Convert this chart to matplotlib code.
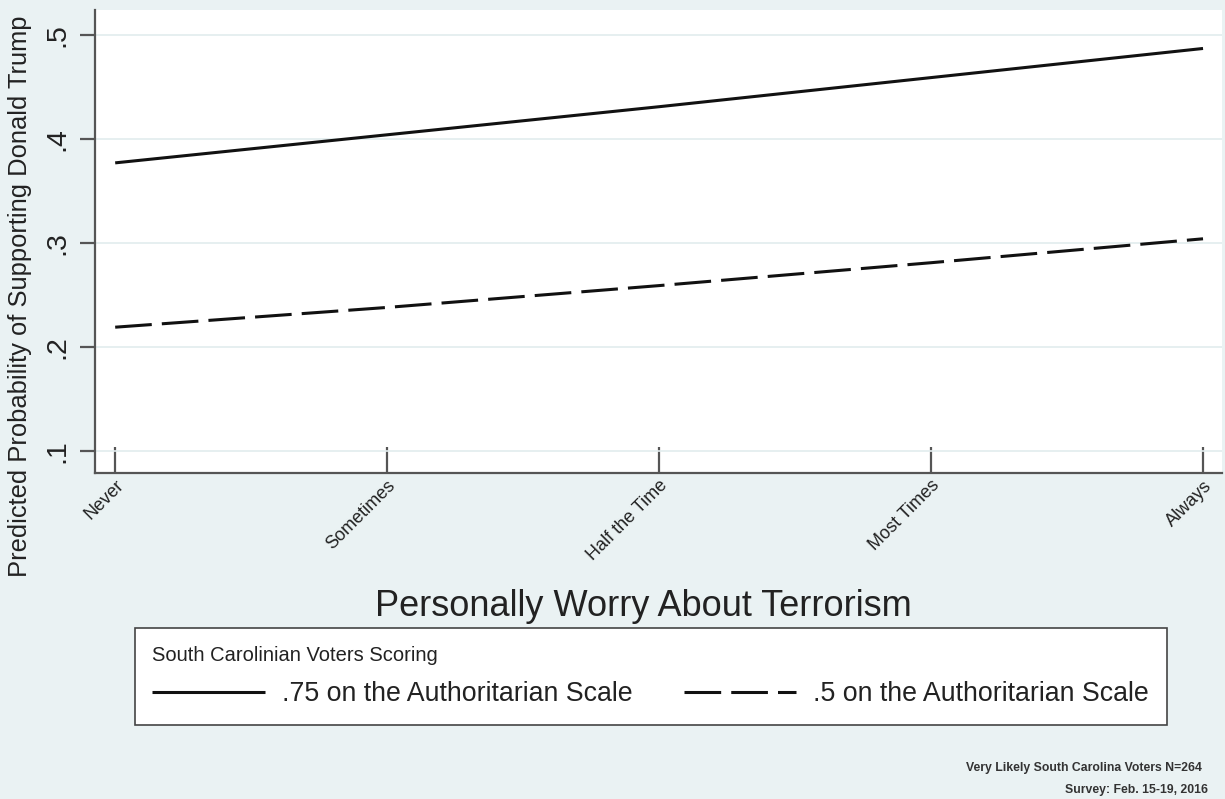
import matplotlib
matplotlib.use("Agg")
import matplotlib.pyplot as plt

plt.rcParams['font.family'] = ['Liberation Sans', 'DejaVu Sans']

categories = ["Never", "Sometimes", "Half the Time", "Most Times", "Always"]
high_auth = [0.377, 0.404, 0.431, 0.459, 0.487]   # .75 on the authoritarian scale
mid_auth = [0.219, 0.238, 0.259, 0.281, 0.304]    # .5 on the authoritarian scale
y_ticks = [0.1, 0.2, 0.3, 0.4, 0.5]
y_tick_labels = [".1", ".2", ".3", ".4", ".5"]

bg = "#EAF2F3"
axis_col = "#555555"
text_col = "#222222"

fig = plt.figure(figsize=(12.25, 7.99), dpi=100, facecolor=bg)
ax = fig.add_axes([0.0776, 0.408, 0.92, 0.5795])
ax.set_facecolor("white")

x = list(range(len(categories)))
ax.plot(x, high_auth, color="#111111", lw=2.2, solid_capstyle="butt",
        label=".75 on the Authoritarian Scale")
ax.plot(x, mid_auth, color="#111111", lw=2.2, dashes=(12, 3.3), dash_capstyle="butt",
        label=".5 on the Authoritarian Scale")

ax.set_xlim(-0.074, 4.07)
ax.set_ylim(0.0788, 0.524)

ax.set_yticks(y_ticks)
ax.set_yticklabels(y_tick_labels, rotation=90, va="center", fontsize=20.5, color=text_col)
ax.set_xticks(x)
ax.set_xticklabels(categories, rotation=45, ha="right", rotation_mode="anchor",
                   fontsize=13, color=text_col)
ax.tick_params(axis="x", direction="in", length=19, width=1.6, color=axis_col, pad=3)
ax.tick_params(axis="y", direction="out", length=11, width=1.6, color=axis_col, pad=7)

ax.grid(axis="y", color="#E2ECEE", lw=1.2)
ax.set_axisbelow(True)
for side in ("top", "right"):
    ax.spines[side].set_visible(False)
for side in ("left", "bottom"):
    ax.spines[side].set_color(axis_col)
    ax.spines[side].set_linewidth(1.6)

ax.set_ylabel("Predicted Probability of Supporting Donald Trump", fontsize=18.4,
              color=text_col)
ax.yaxis.set_label_coords(-0.056, 0.382)

fig.text(0.525, 0.241, "Personally Worry About Terrorism", ha="center", va="center",
         fontsize=26, color=text_col)

leg = fig.legend(loc="upper left", bbox_to_anchor=(0.110, 0.214),
                 ncols=2, title="South Carolinian Voters Scoring", alignment="left",
                 fontsize=19.3, title_fontsize=14.5, handlelength=4.2, handletextpad=0.64,
                 columnspacing=1.9, frameon=True, fancybox=False, borderpad=0.66,
                 borderaxespad=0.0, labelspacing=0.62)
leg.get_frame().set_edgecolor("#444444")
leg.get_frame().set_linewidth(1.2)
leg.get_frame().set_facecolor("white")
leg.get_frame().set_alpha(1)
for t in leg.get_texts():
    t.set_color(text_col)
leg.get_title().set_color(text_col)

fig.text(0.981, 0.039, "Very Likely South Carolina Voters N=264", ha="right", va="center",
         fontsize=8.8, color="#333333", fontweight="bold")
fig.text(0.986, 0.011, "Survey: Feb. 15-19, 2016", ha="right", va="center",
         fontsize=8.8, color="#333333", fontweight="bold")

fig.savefig("out.png", dpi=100, facecolor=bg)
